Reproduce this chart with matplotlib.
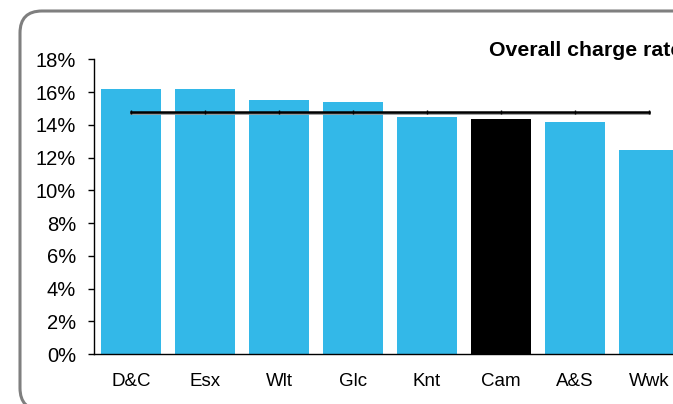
import matplotlib
matplotlib.use("Agg")
import matplotlib.pyplot as plt
from matplotlib.patches import FancyBboxPatch
from matplotlib.transforms import IdentityTransform, ScaledTranslation
from matplotlib.ticker import FuncFormatter

categories = ["D&C", "Esx", "Wlt", "Glc", "Knt", "Cam", "A&S", "Wwk"]
values = [16.2, 16.2, 15.5, 15.4, 14.5, 14.35, 14.2, 12.45]
average = [14.8] * len(categories)
highlight = "Cam"
title = "Overall charge rate"
yticks = [0, 2, 4, 6, 8, 10, 12, 14, 16, 18]

plt.rcParams["font.family"] = ["Liberation Sans", "DejaVu Sans"]

W, H = 673, 404
fig = plt.figure(figsize=(W / 100, H / 100), dpi=100)

# rounded border (extends past the right and bottom edges)
border = FancyBboxPatch((20, -6), 720, 399,
                        boxstyle="round,pad=0,rounding_size=22",
                        transform=IdentityTransform(), fill=False,
                        edgecolor="#7f7f7f", linewidth=2.2)
fig.patches.append(border)

left = 94 / W
bottom = (H - 354) / H
top = (H - 59.3) / H
width = 592 / W
ax = fig.add_axes([left, bottom, width, top - bottom])

x = list(range(len(categories)))
colors = ["#000000" if c == highlight else "#33B8E8" for c in categories]
ax.bar(x, values, width=60 / 74, color=colors, zorder=2)
ax.plot(x, average, color="#9a9a9a", linewidth=2.0, zorder=3,
        transform=ax.transData + ScaledTranslation(0, -1 / 100, fig.dpi_scale_trans))
ax.plot(x, average, color="black", linewidth=1.8, marker="|", markersize=2.5, zorder=4)

ax.set_xlim(-0.5, len(categories) - 0.5)
ax.set_ylim(0, 18)
ax.set_yticks(yticks)
ax.yaxis.set_major_formatter(FuncFormatter(lambda v, p: f"{v:.0f}%"))
ax.set_xticks(x)
ax.set_xticklabels(categories)

for s in ["top", "right"]:
    ax.spines[s].set_visible(False)
for s in ["left", "bottom"]:
    ax.spines[s].set_linewidth(1.0)
    ax.spines[s].set_color("black")

ax.tick_params(axis="y", length=4.5, width=1.0, pad=8.5, labelsize=14.5, direction="out")
ax.tick_params(axis="x", length=0, pad=14, labelsize=13.5)

fig.text(489 / W, 1 - 56 / H, title, fontsize=15.3, fontweight="bold",
         ha="left", va="baseline")

fig.savefig("out.png", dpi=100)
